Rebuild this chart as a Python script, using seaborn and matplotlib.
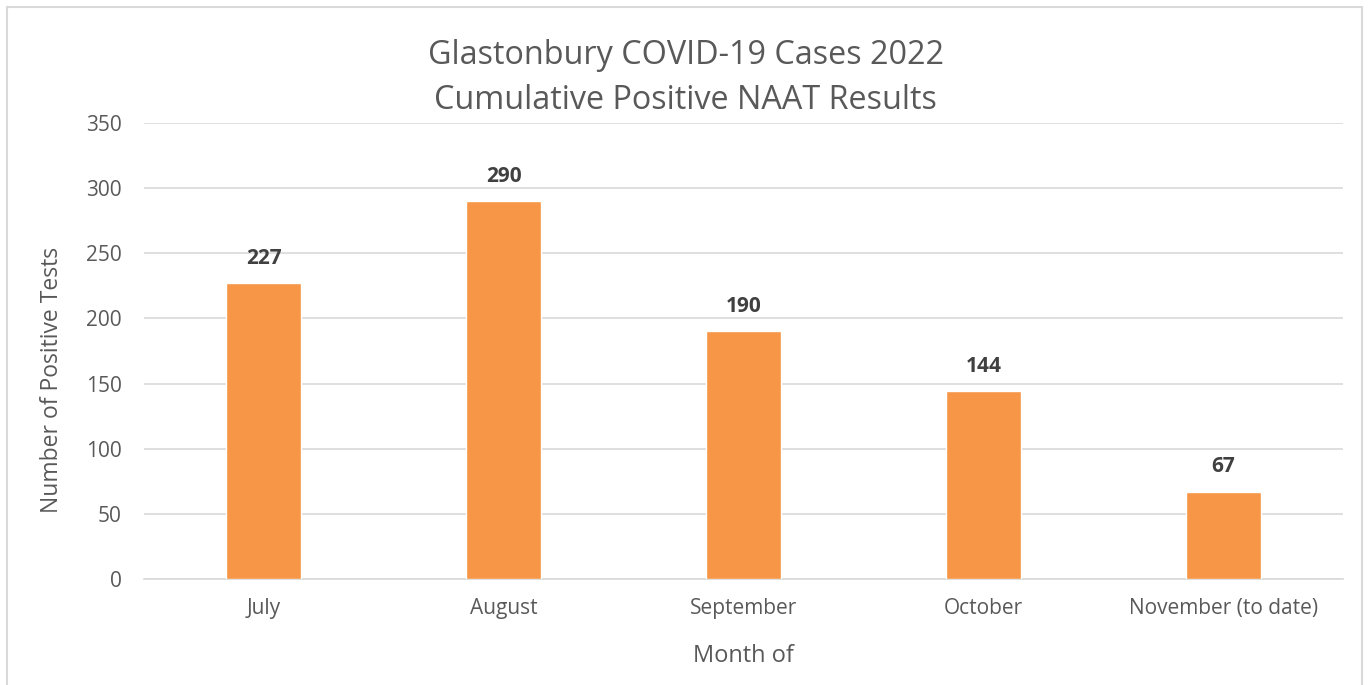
import pandas as pd
import seaborn as sns
import matplotlib.pyplot as plt
from matplotlib.patches import Rectangle

# data
months = ["July", "August", "September", "October", "November (to date)"]
positives = [227, 290, 190, 144, 67]

df = pd.DataFrame({"Month": months, "Positives": positives})

sns.set_style("white")
plt.rcParams["font.family"] = ["Open Sans", "DejaVu Sans"]

fig = plt.figure(figsize=(13.71, 6.85), dpi=100)
ax = fig.add_axes([0.105, 0.1547, 0.8746, 0.6657])

sns.barplot(data=df, x="Month", y="Positives", color="#F79646",
            saturation=1, width=0.313, ax=ax, zorder=3)

# value labels
for i, v in enumerate(positives):
    ax.text(i, v + 11, str(v), ha="center", va="bottom",
            fontsize=15, fontweight="bold", color="#404040")

ax.set_ylim(0, 350)
ax.set_xlim(-0.5, len(months) - 0.5)
ax.set_yticks(range(0, 351, 50))
ax.grid(axis="y", color="#D9D9D9", linewidth=1.2, zorder=0)
ax.grid(axis="x", visible=False)
for s in ["top", "right", "left"]:
    ax.spines[s].set_visible(False)
ax.spines["bottom"].set_color("#D9D9D9")
ax.spines["bottom"].set_linewidth(1.2)

# category separator ticks
ax.set_xticks(range(len(months)))
ax.set_xticklabels(months)
ax.set_xticks([i - 0.5 for i in range(len(months) + 1)], minor=True)
ax.tick_params(axis="x", which="minor", length=7, color="#D9D9D9", width=1.2)
ax.tick_params(axis="x", which="major", length=0, pad=14, labelsize=15, labelcolor="#595959")
ax.tick_params(axis="y", length=0, pad=16, labelsize=15, labelcolor="#595959")

ax.set_xlabel("Month of", fontsize=17, color="#595959", labelpad=18)
ax.set_ylabel("Number of Positive Tests", fontsize=16.5, color="#595959")
ax.yaxis.set_label_coords(-0.067, 0.436)

fig.text(0.5, 0.886, "Glastonbury COVID-19 Cases 2022\nCumulative Positive NAAT Results",
         ha="center", va="center", fontsize=23.3, color="#595959", linespacing=1.5)

# outer chart border
fig.patches.append(Rectangle((7 / 1371, -0.05), 1362 / 1371 - 7 / 1371, 1.05 - 7 / 685,
                             transform=fig.transFigure, fill=False,
                             edgecolor="#D9D9D9", linewidth=1.5))

fig.savefig("out.png", dpi=100)
